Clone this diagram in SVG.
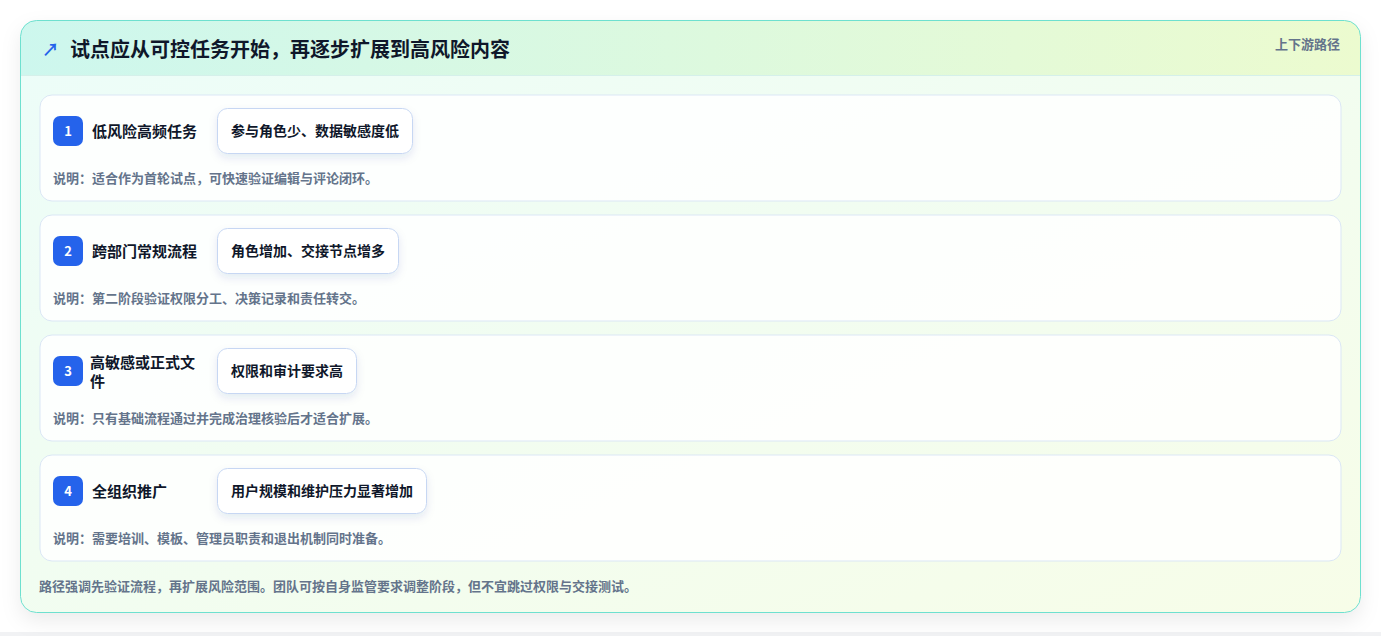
<svg xmlns="http://www.w3.org/2000/svg" width="1381" height="636" viewBox="0 0 1381 636">
<defs>
<linearGradient id="cardBg" x1="0" y1="0" x2="1" y2="1">
<stop offset="0" stop-color="#ecfdf9"/>
<stop offset="1" stop-color="#f7fde8"/>
</linearGradient>
<linearGradient id="headBg" x1="0" y1="0" x2="1" y2="0">
<stop offset="0" stop-color="#cdf7ee"/>
<stop offset="1" stop-color="#ecfbcf"/>
</linearGradient>
<filter id="cardShadow" x="-5%" y="-10%" width="110%" height="125%">
<feDropShadow dx="0" dy="8" stdDeviation="10" flood-color="#0f172a" flood-opacity="0.08"/>
</filter>
<filter id="pillShadow" x="-20%" y="-40%" width="140%" height="190%">
<feDropShadow dx="0" dy="4" stdDeviation="4" flood-color="#1e3a8a" flood-opacity="0.10"/>
</filter>
<clipPath id="cardClip"><rect x="20.5" y="20.5" width="1340" height="592" rx="16"/></clipPath>
</defs>
<style>
text{font-family:"Noto Sans CJK SC","Noto Sans",sans-serif;}
.title{font-size:20px;font-weight:700;fill:#0f172a;}
.tag{font-size:13px;font-weight:700;fill:#64748b;}
.row{fill:#ffffff;fill-opacity:0.85;stroke:#dbe7f5;stroke-width:1;}
.badge{fill:#2563eb;}
.num{font-size:13px;font-weight:700;fill:#ffffff;text-anchor:middle;}
.name{font-size:15px;font-weight:700;fill:#0f172a;}
.pill{fill:#ffffff;stroke:#c7d7f3;stroke-width:1;}
.ptxt{font-size:14px;font-weight:700;fill:#0f172a;}
.desc{font-size:13px;font-weight:700;fill:#64748b;}
</style>
<rect x="0" y="0" width="1381" height="636" fill="#ffffff"/>
<rect x="0" y="632" width="1381" height="4" fill="#f1f2f4"/>
<g id="card">
<rect x="20.5" y="20.5" width="1340" height="592" rx="16" fill="url(#cardBg)" filter="url(#cardShadow)"/>
<g clip-path="url(#cardClip)">
<rect x="20" y="20" width="1341" height="55" fill="url(#headBg)"/>
<line x1="20" y1="75.5" x2="1361" y2="75.5" stroke="#d5f0ea" stroke-width="1"/>
</g>
<rect x="20.5" y="20.5" width="1340" height="592" rx="16" fill="none" stroke="#6ee0cf" stroke-width="1"/>
<text x="42" y="56" font-size="17" font-weight="700" fill="#2563eb">↗</text>
<text x="70" y="57" class="title">试点应从可控任务开始，再逐步扩展到高风险内容</text>
<text x="1340" y="48.5" class="tag" text-anchor="end">上下游路径</text>
</g>
<g id="step1">
<rect x="40" y="95" width="1301" height="106" rx="12" class="row"/>
<rect x="53" y="116" width="30" height="30" rx="7" class="badge"/>
<text x="68" y="135.5" class="num">1</text>
<text x="92" y="136.5" class="name">低风险高频任务</text>
<rect x="217.5" y="108.5" width="195" height="45" rx="10" class="pill" filter="url(#pillShadow)"/>
<text x="231" y="136" class="ptxt">参与角色少、数据敏感度低</text>
<text x="53" y="182.5" class="desc">说明：适合作为首轮试点，可快速验证编辑与评论闭环。</text>
</g>
<g id="step2">
<rect x="40" y="215" width="1301" height="106" rx="12" class="row"/>
<rect x="53" y="236" width="30" height="30" rx="7" class="badge"/>
<text x="68" y="255.5" class="num">2</text>
<text x="92" y="256.5" class="name">跨部门常规流程</text>
<rect x="217.5" y="228.5" width="181" height="45" rx="10" class="pill" filter="url(#pillShadow)"/>
<text x="231" y="256" class="ptxt">角色增加、交接节点增多</text>
<text x="53" y="302.5" class="desc">说明：第二阶段验证权限分工、决策记录和责任转交。</text>
</g>
<g id="step3">
<rect x="40" y="335" width="1301" height="106" rx="12" class="row"/>
<rect x="53" y="356" width="30" height="30" rx="7" class="badge"/>
<text x="68" y="375.5" class="num">3</text>
<text x="90" y="367.5" class="name">高敏感或正式文</text>
<text x="90" y="386.5" class="name">件</text>
<rect x="217.5" y="348.5" width="139" height="45" rx="10" class="pill" filter="url(#pillShadow)"/>
<text x="231" y="376" class="ptxt">权限和审计要求高</text>
<text x="53" y="422.5" class="desc">说明：只有基础流程通过并完成治理核验后才适合扩展。</text>
</g>
<g id="step4">
<rect x="40" y="455" width="1301" height="106" rx="12" class="row"/>
<rect x="53" y="476" width="30" height="30" rx="7" class="badge"/>
<text x="68" y="495.5" class="num">4</text>
<text x="92" y="496.5" class="name">全组织推广</text>
<rect x="217.5" y="468.5" width="209" height="45" rx="10" class="pill" filter="url(#pillShadow)"/>
<text x="231" y="496" class="ptxt">用户规模和维护压力显著增加</text>
<text x="53" y="542.5" class="desc">说明：需要培训、模板、管理员职责和退出机制同时准备。</text>
</g>
<g id="footer">
<text x="39" y="590.5" class="desc">路径强调先验证流程，再扩展风险范围。团队可按自身监管要求调整阶段，但不宜跳过权限与交接测试。</text>
</g>
<g id="connectors"></g>
</svg>
